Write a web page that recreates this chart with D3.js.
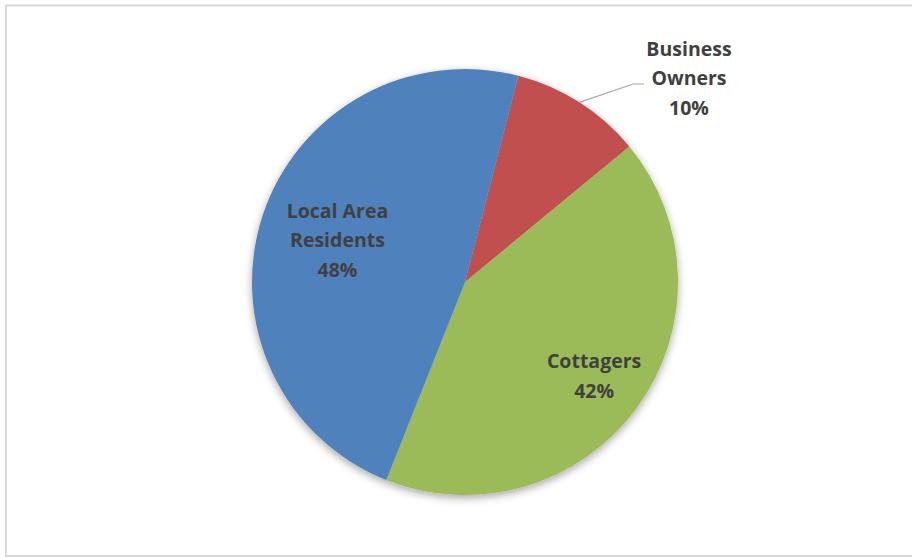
<!DOCTYPE html>
<html>
<head>
<meta charset="utf-8">
<script src="https://cdn.jsdelivr.net/npm/d3@7"></script>
<style>
  html, body { margin: 0; padding: 0; background: #fff; }
  svg { display: block; }
</style>
</head>
<body>
<svg id="chart" width="912" height="557"></svg>
<script>
// Survey respondent groups, in drawing order (clockwise)
const categories = ["Business Owners", "Cottagers", "Local Area Residents"];
const shares = [10, 42, 48];
const labelLines = [["Business", "Owners"], ["Cottagers"], ["Local Area", "Residents"]];
const sliceColors = ["#C0504D", "#9BBB59", "#4F81BD"];

const W = 912, H = 557;
const cx = 465, cy = 282, R = 213;
const firstSliceAngle = 14.5 * Math.PI / 180;

const svg = d3.select("#chart");

// chart frame
svg.append("rect")
  .attr("x", 6).attr("y", 5.5)
  .attr("width", 912).attr("height", 550.5)
  .attr("fill", "#fff")
  .attr("stroke", "#d9d9d9").attr("stroke-width", 2);

const defs = svg.append("defs");
const shadow = defs.append("filter").attr("id", "pieShadow")
  .attr("x", "-20%").attr("y", "-20%").attr("width", "140%").attr("height", "140%");
shadow.append("feDropShadow")
  .attr("dx", 0).attr("dy", 3).attr("stdDeviation", 4)
  .attr("flood-color", "#000").attr("flood-opacity", 0.35);

const data = categories.map((c, i) => ({ name: c, value: shares[i], lines: labelLines[i], color: sliceColors[i] }));

const pie = d3.pie().value(d => d.value).sort(null)
  .startAngle(firstSliceAngle).endAngle(firstSliceAngle + 2 * Math.PI);
const arcs = pie(data);
const arc = d3.arc().innerRadius(0).outerRadius(R);

const g = svg.append("g").attr("transform", `translate(${cx},${cy})`);

g.append("g").attr("filter", "url(#pieShadow)")
  .selectAll("path").data(arcs).join("path")
  .attr("d", arc)
  .attr("fill", d => d.data.color);

// label placement: inside labels sit on a ring, the small slice gets an outside callout
const labelLayout = {
  "Business Owners": { outside: true, dx: 224, dy: -204, leaderElbow: [168, -198], leaderEnd: [179, -198] },
  "Cottagers": { ring: 0.75 },
  "Local Area Residents": { ring: 0.63 }
};

const total = d3.sum(shares);
const lineH = 29.5;
const textFont = "'Open Sans', Lato, sans-serif";

arcs.forEach(a => {
  const lay = labelLayout[a.data.name];
  const mid = (a.startAngle + a.endAngle) / 2;
  let lx, ly;
  if (lay.outside) {
    lx = lay.dx; ly = lay.dy;
    const ex = Math.sin(mid) * R, ey = -Math.cos(mid) * R;
    g.append("polyline")
      .attr("points", [[ex, ey], lay.leaderElbow, lay.leaderEnd].map(p => p.join(",")).join(" "))
      .attr("fill", "none").attr("stroke", "#a6a6a6").attr("stroke-width", 1.2);
  } else {
    lx = Math.sin(mid) * R * lay.ring;
    ly = -Math.cos(mid) * R * lay.ring;
  }
  const lines = a.data.lines.concat([Math.round(a.data.value / total * 100) + "%"]);
  const n = lines.length;
  const t = g.append("text")
    .attr("text-anchor", "middle")
    .attr("font-family", textFont)
    .attr("font-weight", 700)
    .attr("font-size", 19.5)
    .attr("fill", "#404040");
  lines.forEach((s, i) => {
    t.append("tspan")
      .attr("x", lx)
      .attr("y", ly + (i - (n - 1) / 2) * lineH + 7)
      .text(s);
  });
});
</script>
</body>
</html>
